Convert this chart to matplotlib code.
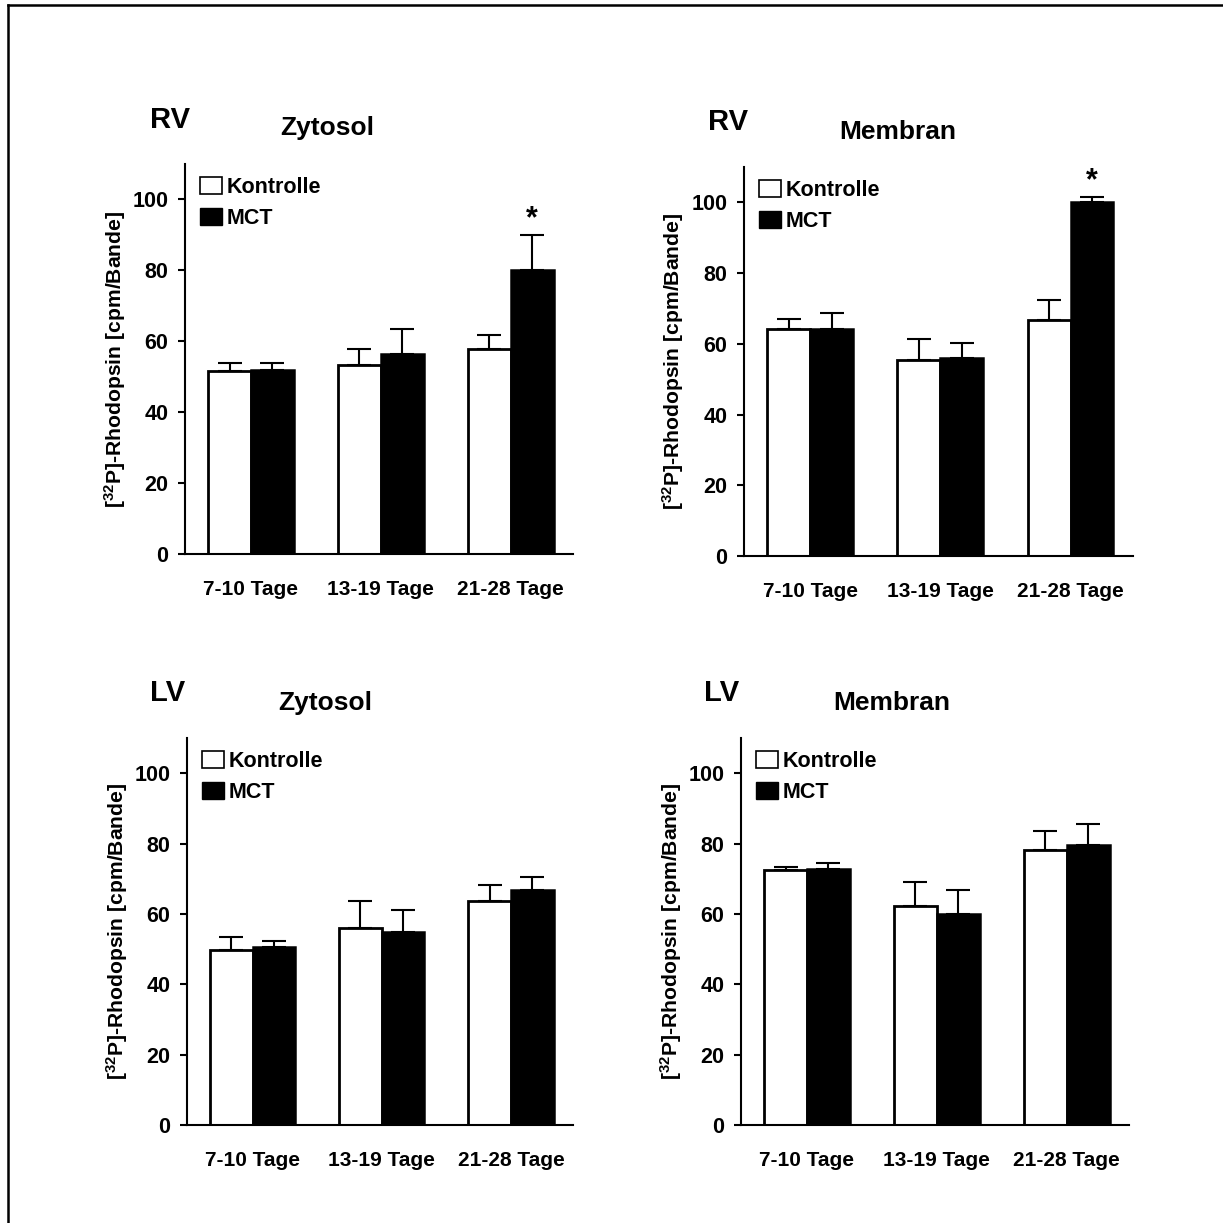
import numpy as np
import matplotlib
matplotlib.use("Agg")
import matplotlib.pyplot as plt
from matplotlib.patches import Patch
from matplotlib.lines import Line2D

plt.rcParams['font.family'] = ['Liberation Sans', 'DejaVu Sans']
plt.rcParams['font.weight'] = 'bold'
plt.rcParams['mathtext.fontset'] = 'custom'
plt.rcParams['mathtext.rm'] = 'Liberation Sans:bold'
plt.rcParams['mathtext.bf'] = 'Liberation Sans:bold'
plt.rcParams['mathtext.default'] = 'rm'

groups = ["7-10 Tage", "13-19 Tage", "21-28 Tage"]
yticks = [0, 20, 40, 60, 80, 100]

# RV Zytosol
rv_zyt_kon = [51.6, 53.2, 57.9]
rv_zyt_kon_err = [2.3, 4.7, 4.0]
rv_zyt_mct = [51.8, 56.4, 80.2]
rv_zyt_mct_err = [2.1, 7.0, 9.8]

# RV Membran
rv_mem_kon = [64.3, 55.3, 66.6]
rv_mem_kon_err = [2.8, 6.0, 5.9]
rv_mem_mct = [64.3, 56.1, 100.2]
rv_mem_mct_err = [4.4, 4.1, 1.4]

# LV Zytosol
lv_zyt_kon = [49.8, 55.9, 63.8]
lv_zyt_kon_err = [3.6, 7.7, 4.4]
lv_zyt_mct = [50.7, 55.0, 66.8]
lv_zyt_mct_err = [1.6, 6.1, 3.6]

# LV Membran
lv_mem_kon = [72.5, 62.3, 78.2]
lv_mem_kon_err = [0.7, 6.9, 5.5]
lv_mem_mct = [72.7, 59.9, 79.6]
lv_mem_mct_err = [1.7, 6.9, 6.0]

W = 1223.0
fig = plt.figure(figsize=(12.23, 12.23), dpi=100)


def px_axes(l, r, b, t):
    return fig.add_axes([l / W, 1 - b / W, (r - l) / W, (b - t) / W])


def panel(ax, kon, kon_err, mct, mct_err, star=None):
    x = np.arange(len(groups))
    w = 0.33
    ax.bar(x - w / 2, kon, w, color='white', edgecolor='black', linewidth=2.0, zorder=2)
    ax.bar(x + w / 2, mct, w, color='black', edgecolor='black', linewidth=1.8, zorder=2)
    ax.errorbar(x - w / 2, kon, yerr=[np.zeros(3), kon_err], fmt='none', ecolor='black',
                elinewidth=1.5, capsize=8.5, capthick=1.5, zorder=3)
    ax.errorbar(x + w / 2, mct, yerr=[np.zeros(3), mct_err], fmt='none', ecolor='black',
                elinewidth=1.5, capsize=8.5, capthick=1.5, zorder=1)
    if star is not None:
        i = star
        ax.text(x[i] + w / 2, mct[i] + mct_err[i] + 4.5, '*', ha='center', va='center',
                fontsize=22, fontweight='bold')
    ax.set_xlim(-0.508, 2.48)
    ax.set_ylim(0, 110)
    ax.set_yticks(yticks)
    ax.set_xticks(x)
    ax.set_xticklabels(groups, fontsize=15, fontweight='bold')
    ax.tick_params(axis='y', labelsize=15.5, length=5, width=1.5, pad=7)
    ax.tick_params(axis='x', length=0, pad=19)
    for s in ['top', 'right']:
        ax.spines[s].set_visible(False)
    for s in ['left', 'bottom']:
        ax.spines[s].set_linewidth(1.5)
    ax.set_ylabel(r'[$^{32}$P]-Rhodopsin [cpm/Bande]', fontsize=15.2, fontweight='bold')
    ax.yaxis.set_label_coords(-0.148, 0.5)
    handles = [Patch(facecolor='white', edgecolor='black', linewidth=1.2, label='Kontrolle'),
               Patch(facecolor='black', edgecolor='black', label='MCT')]
    ax.legend(handles=handles, loc='upper left', bbox_to_anchor=(0.005, 1.0), frameon=False,
              prop={'size': 15.5, 'weight': 'bold'}, handlelength=1.05, handleheight=0.85,
              handletextpad=0.2, labelspacing=0.45, borderaxespad=0.2)


ax1 = px_axes(185, 573, 554, 164)
panel(ax1, rv_zyt_kon, rv_zyt_kon_err, rv_zyt_mct, rv_zyt_mct_err, star=2)
ax2 = px_axes(744, 1133, 556, 167)
panel(ax2, rv_mem_kon, rv_mem_kon_err, rv_mem_mct, rv_mem_mct_err, star=2)
ax3 = px_axes(187, 573, 1125, 738)
panel(ax3, lv_zyt_kon, lv_zyt_kon_err, lv_zyt_mct, lv_zyt_mct_err)
ax4 = px_axes(741, 1129, 1125, 738)
panel(ax4, lv_mem_kon, lv_mem_kon_err, lv_mem_mct, lv_mem_mct_err)

# panel headings
heads = [("RV", 170, 120, "Zytosol", 327, 128),
         ("RV", 728, 122, "Membran", 898, 132),
         ("LV", 168, 693, "Zytosol", 325, 703),
         ("LV", 722, 693, "Membran", 892, 703)]
for side, sx, sy, part, px, py in heads:
    fig.text(sx / W, 1 - sy / W, side, ha='center', va='center', fontsize=21, fontweight='bold')
    fig.text(px / W, 1 - py / W, part, ha='center', va='center', fontsize=19, fontweight='bold')

# frame lines (top and left)
fig.add_artist(Line2D([8 / W, 1], [1 - 5 / W, 1 - 5 / W], color='black', linewidth=1.8,
                      transform=fig.transFigure))
fig.add_artist(Line2D([8 / W, 8 / W], [0, 1 - 5 / W], color='black', linewidth=1.8,
                      transform=fig.transFigure))

fig.savefig("out.png", dpi=100)
